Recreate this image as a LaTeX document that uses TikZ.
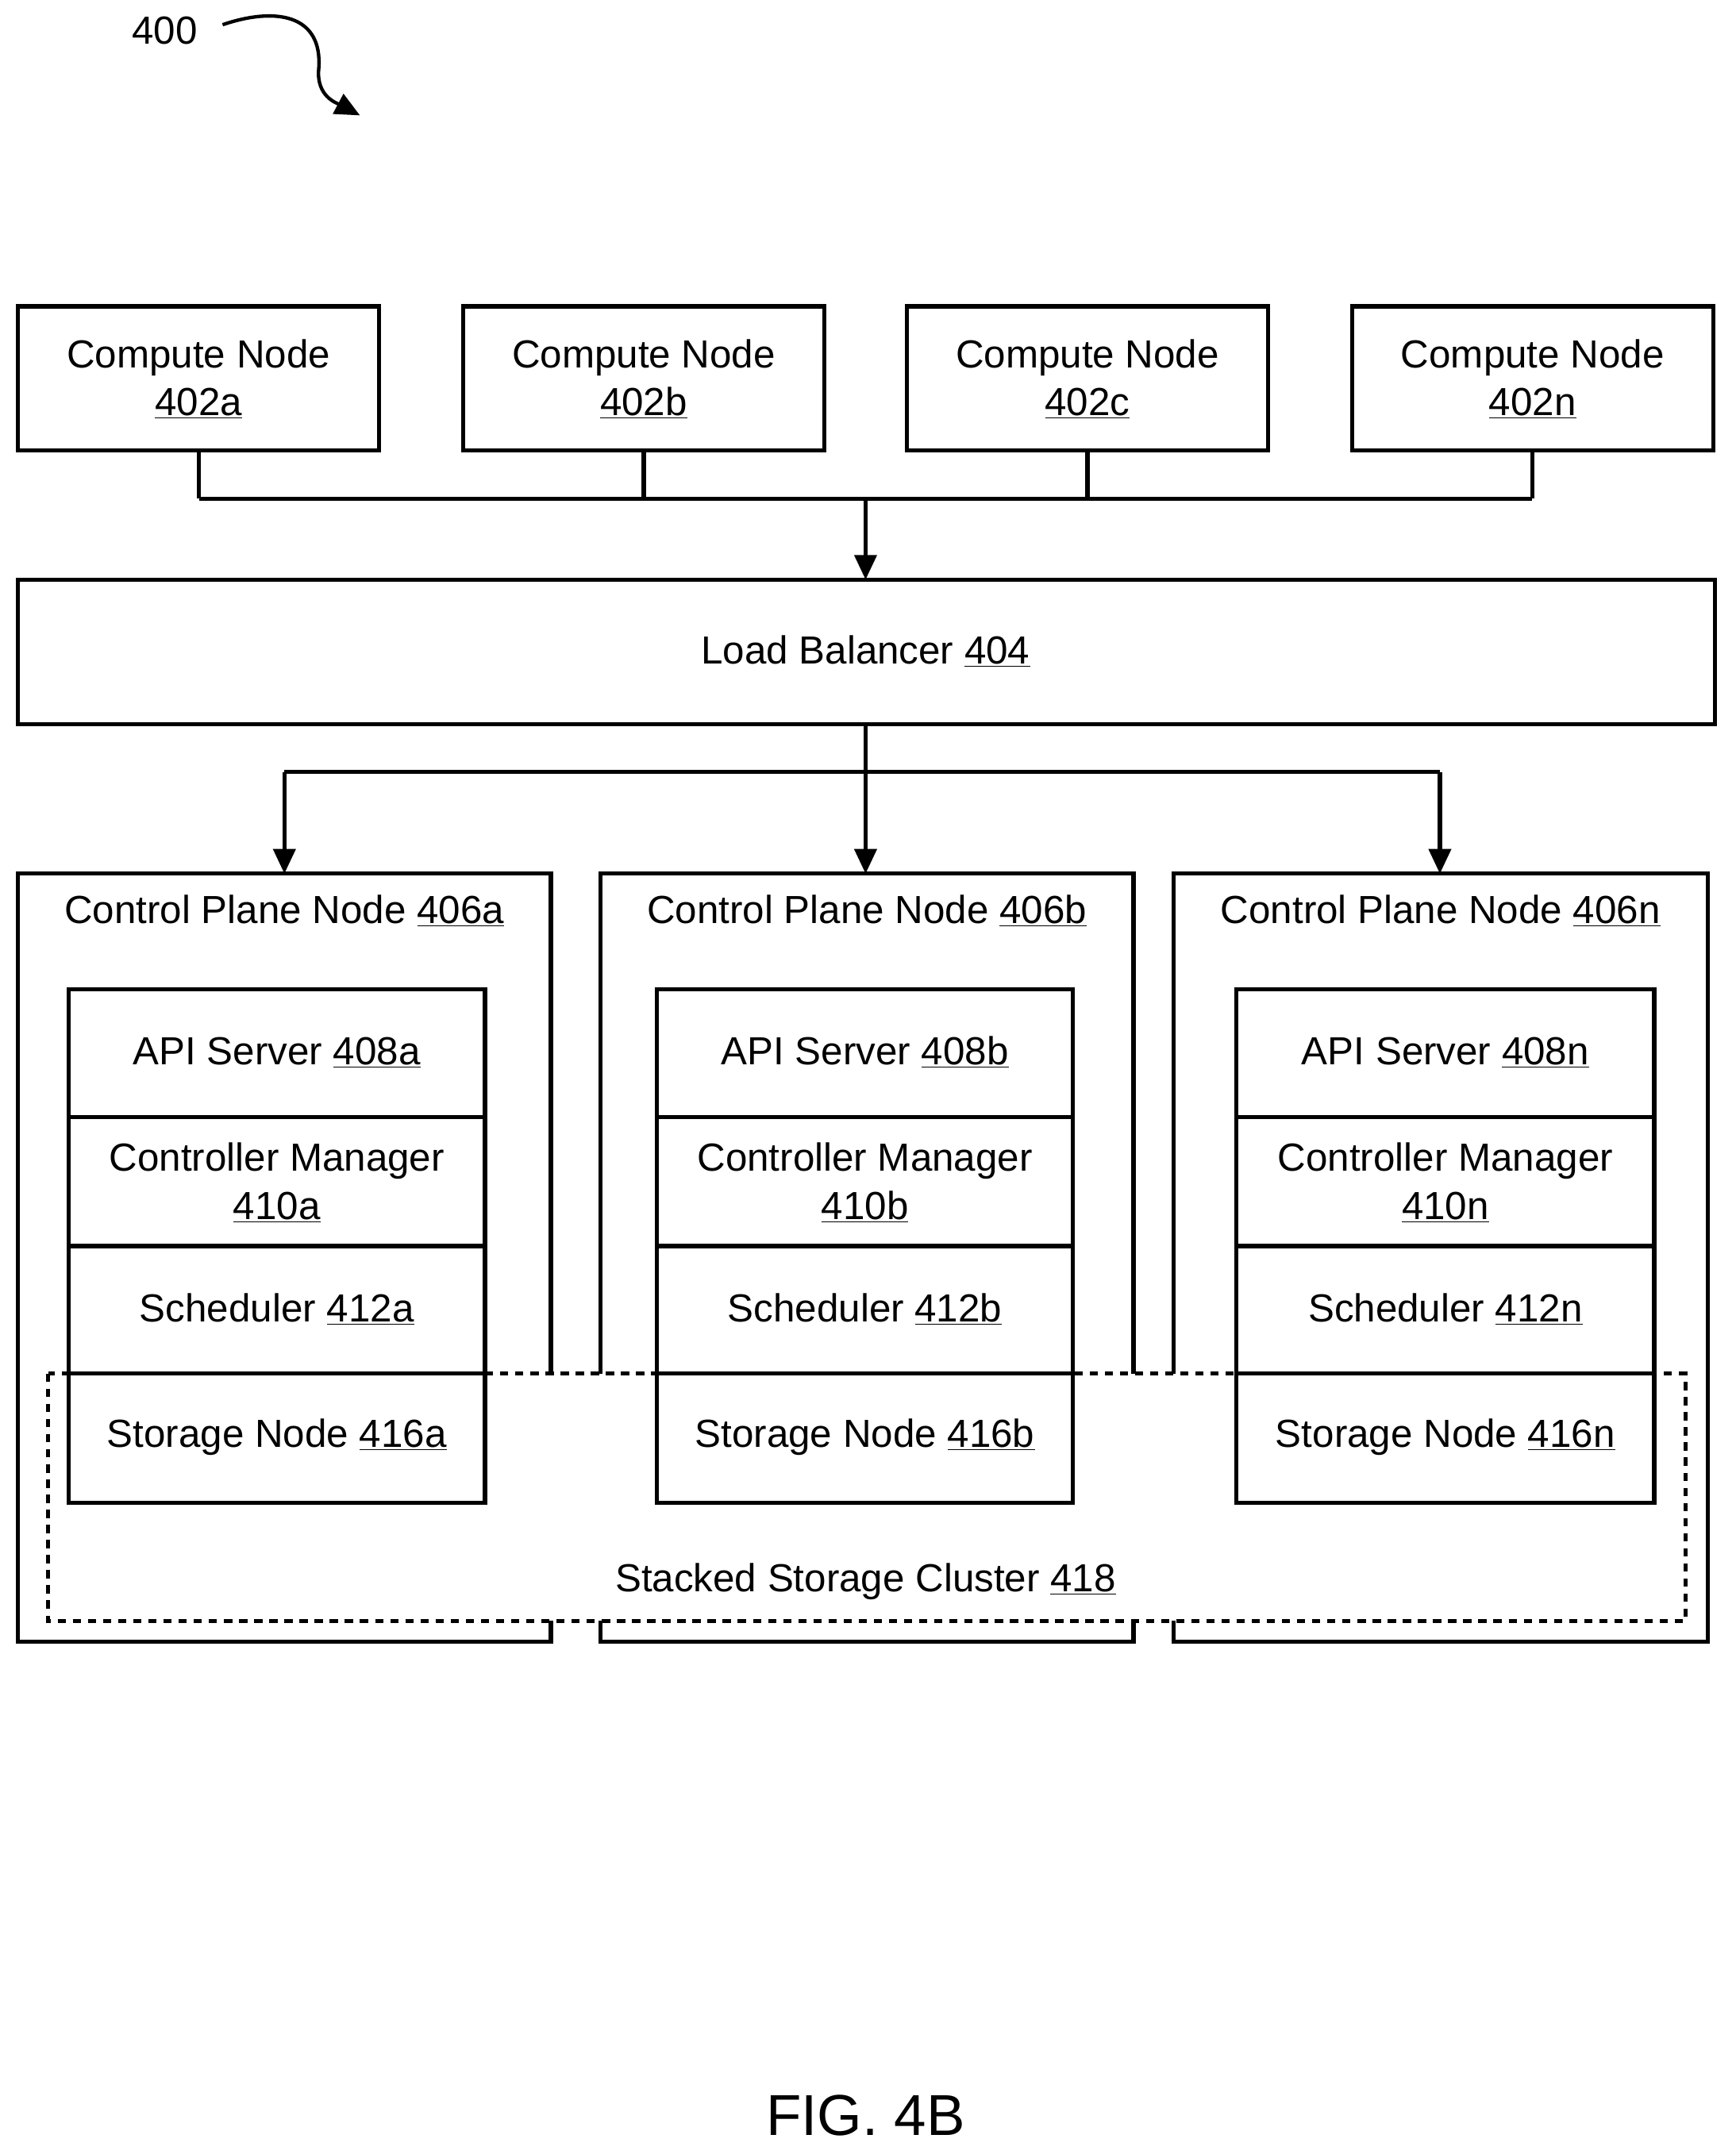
\documentclass[tikz,border=0pt]{standalone}
\usepackage{fontspec}
\setmainfont{Liberation Sans}
\usetikzlibrary{arrows.meta}
\newcommand{\un}[1]{\underline{#1}}
\begin{document}
\begin{tikzpicture}[x=1pt,y=-1pt,line width=3pt,
  box/.style={draw,line width=3pt},
  lbl/.style={font=\fontsize{28.5}{35}\selectfont,align=center,inner sep=0pt},
  arr/.style={-{Triangle[length=18pt,width=16pt]}}]
\useasboundingbox (0,0) rectangle (1263,1568);
\node[lbl,anchor=center] (t400) at (120,22) {400};
\coordinate (sq0) at (162,18);
\coordinate (sq1) at (262,84);
\draw[arr,line width=2.5pt] (sq0) .. controls (200,5) and (235,10) .. (232,50) .. controls (230,70) and (245,75) .. (sq1);
% compute nodes
\foreach \n/\xa/\xb in {a/13/276,b/337/600,c/660/923,n/984/1247}{
  \draw[box] (\xa,223) rectangle (\xb,328);
  \node[lbl] (cn\n) at ({(\xa+\xb)/2},276) {Compute Node\\\un{402\n}};
  \coordinate (cb\n) at ({(\xa+\xb)/2},328);
}
\coordinate (busL) at (145,363);
\coordinate (busR) at (1115,363);
\coordinate (busM) at (630,363);
\draw (busL) -- (busR);
\foreach \n in {a,b,c,n}{\draw (cb\n) -- (cb\n |- busM);}
\draw[box] (13,422) rectangle (1248,527);
\node[lbl] (lb) at (630,474) {Load Balancer \un{404}};
\coordinate (lbT) at (630,422);
\coordinate (lbB) at (630,527);
\draw[arr] (busM) -- (lbT);
\coordinate (hub) at (630,562);
\coordinate (hL) at (207,562);
\coordinate (hR) at (1048,562);
\draw (lbB) -- (hub);
\draw (hL) -- (hR);
% control plane boxes
\foreach \n/\xa/\xb in {a/13/401,b/437/825,n/854/1243}{
  \draw[box] (\xa,636) rectangle (\xb,1195);
  \node[lbl,anchor=center] (cp\n) at ({(\xa+\xb)/2},663) {Control Plane Node \un{406\n}};
}
\draw[arr] (hL) -- (207,636);
\draw[arr] (hub) -- (630,636);
\draw[arr] (hR) -- (1048,636);
% stacked cluster
\draw[fill=white,dash pattern=on 6pt off 5pt] (35,1000) rectangle (1227,1180);
\node[lbl] (cl) at (630,1151) {Stacked Storage Cluster \un{418}};
% stacks
\foreach \n/\xa/\xb in {a/50/353,b/478/781,n/900/1204}{
  \draw[box,fill=white] (\xa,720) rectangle (\xb,1094);
  \draw (\xa,813) -- (\xb,813);
  \draw (\xa,907) -- (\xb,907);
  \draw (\xa,1000) -- (\xb,1000);
  \node[lbl] (api\n) at ({(\xa+\xb)/2},766) {API Server \un{408\n}};
  \node[lbl] (cm\n) at ({(\xa+\xb)/2},861) {Controller Manager\\\un{410\n}};
  \node[lbl] (sc\n) at ({(\xa+\xb)/2},953) {Scheduler \un{412\n}};
  \node[lbl] (st\n) at ({(\xa+\xb)/2},1046) {Storage Node \un{416\n}};
}
\node[font=\fontsize{42}{48}\selectfont,inner sep=0pt] (fig) at (630,1540) {FIG. 4B};
\end{tikzpicture}
\end{document}
